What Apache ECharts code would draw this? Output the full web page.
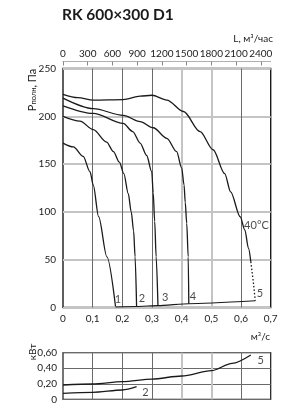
<!DOCTYPE html>
<html>
<head>
<meta charset="utf-8">
<script src="https://cdn.jsdelivr.net/npm/echarts@6/dist/echarts.min.js"></script>
<style>html,body{margin:0;padding:0;background:#fff;}#c{width:286px;height:418px;}</style>
</head>
<body>
<div id="c"></div>
<script>
// ---- data ----
const title = 'RK 600×300 D1';
const flowTickLabels = ['0', '0,1', '0,2', '0,3', '0,4', '0,5', '0,6', '0,7'];
const flowTopTicks = [0, 300, 600, 900, 1200, 1500, 1800, 2100, 2400];
const powerTickLabels = { 0: '0', 0.2: '0,20', 0.4: '0,40', 0.6: '0,60' };

// pressure curves [Q m3/s, P Pa]
const curve1 = [[0,172],[0.035,168],[0.068,158],[0.091,142],[0.102,128],[0.12,95],[0.148,53],[0.177,1]];
const curve2 = [[0,200],[0.057,195],[0.102,186],[0.147,173],[0.17,163],[0.19,152],[0.205,140],[0.22,119],[0.23,100],[0.238,80],[0.243,53],[0.248,1]];
const curve3 = [[0,211],[0.102,203],[0.203,192.5],[0.235,184],[0.26,172],[0.282,159],[0.299,142],[0.304,120],[0.309,90],[0.314,53],[0.32,2]];
const curve4 = [[0,219],[0.102,208],[0.203,201],[0.26,194.5],[0.304,188],[0.35,177],[0.383,163],[0.4,146],[0.408,128],[0.412,110],[0.417,88],[0.422,53],[0.424,4]];
const curve5 = [[0,223],[0.05,219.5],[0.102,217],[0.203,217.5],[0.26,221],[0.3,222],[0.35,217],[0.406,205],[0.462,184],[0.506,165],[0.545,140],[0.565,121],[0.597,95],[0.613,81],[0.625,62],[0.633,48]];
const curve5Dotted = [[0.633,48],[0.641,28],[0.648,7]];
const baseLine = [[0.177,0.5],[0.248,1],[0.32,2],[0.424,4],[0.648,7]];

// power curves [Q m3/s, kW]
const power5 = [[0,0.184],[0.1,0.197],[0.2,0.227],[0.3,0.261],[0.4,0.3],[0.5,0.368],[0.57,0.463],[0.633,0.57]];
const power2 = [[0,0.077],[0.1,0.09],[0.2,0.12],[0.248,0.162]];

// curve labels [Q, value, text]
const pressureLabels = [[0.185,8,'1'],[0.266,9,'2'],[0.344,10,'3'],[0.438,12,'4'],[0.664,15,'5'],[0.652,86,'40°C']];
const powerLabels = [[0.278,0.088,'2'],[0.666,0.506,'5']];

// ---- chart ----
const FONT = 'Lato';
const DARK = '#6a6a6a', GRAY = '#c4c4c4', T = 'rgba(0,0,0,0)';
const darkCols = [T, DARK, DARK, DARK, T, T, DARK, T];
const grayCols = [T, T, T, T, GRAY, GRAY, T, T];
const lab = { fontFamily: FONT, fontSize: 10, color: '#222' };

function lineSeries(data, xi, yi, extra) {
  return Object.assign({
    type: 'line', data: data, xAxisIndex: xi, yAxisIndex: yi,
    showSymbol: false, smooth: 0.3, smoothMonotone: 'x',
    lineStyle: { color: '#1a1a1a', width: 1.3 }, silent: true, z: 5
  }, extra || {});
}
function labelSeries(data, xi, yi) {
  return {
    type: 'scatter', data: data, xAxisIndex: xi, yAxisIndex: yi,
    symbolSize: 0, silent: true, z: 6,
    label: { show: true, position: 'inside', formatter: p => p.data[2],
      fontFamily: FONT, fontSize: 11, color: '#1a1a1a' }
  };
}

const chart = echarts.init(document.getElementById('c'), null, { renderer: 'canvas' });
chart.setOption({
  animation: false,
  backgroundColor: '#fff',
  grid: [
    { left: 63, top: 68.5, width: 207.7, height: 239, show: true, borderColor: '#1a1a1a', borderWidth: 1.4 },
    { left: 63, top: 352.7, width: 207.7, height: 46.6, show: true, borderColor: '#1a1a1a', borderWidth: 1.2 }
  ],
  xAxis: [
    { gridIndex: 0, type: 'value', min: 0, max: 0.7, interval: 0.1, position: 'bottom',
      axisLine: { show: false }, axisTick: { show: false },
      axisLabel: Object.assign({ margin: 6, formatter: (v) => flowTickLabels[Math.round(v * 10)] }, lab),
      splitLine: { show: true, lineStyle: { color: darkCols, width: 1 } } },
    { gridIndex: 0, type: 'value', min: 0, max: 2520, interval: 300, position: 'top', offset: 7,
      axisLine: { show: true, lineStyle: { color: '#b0b0b0', width: 1 } },
      axisTick: { show: true, inside: true, length: 4, lineStyle: { color: '#888' } },
      axisLabel: Object.assign({ margin: 3, showMaxLabel: false,
        formatter: (v) => flowTopTicks.indexOf(v) >= 0 ? String(v) : '' }, lab),
      splitLine: { show: false } },
    { gridIndex: 0, type: 'value', min: 0, max: 0.7, interval: 0.1, show: true,
      axisLine: { show: false }, axisTick: { show: false }, axisLabel: { show: false },
      splitLine: { show: true, lineStyle: { color: grayCols, width: 2 } } },
    { gridIndex: 1, type: 'value', min: 0, max: 0.7, interval: 0.1, position: 'bottom',
      axisLine: { show: false }, axisTick: { show: false }, axisLabel: { show: false },
      splitLine: { show: true, lineStyle: { color: darkCols, width: 1 } } },
    { gridIndex: 1, type: 'value', min: 0, max: 0.7, interval: 0.1,
      axisLine: { show: false }, axisTick: { show: false }, axisLabel: { show: false },
      splitLine: { show: true, lineStyle: { color: grayCols, width: 2 } } }
  ],
  yAxis: [
    { gridIndex: 0, type: 'value', min: 0, max: 250, interval: 50,
      axisLine: { show: false }, axisTick: { show: false },
      axisLabel: Object.assign({ margin: 7 }, lab),
      splitLine: { show: true, lineStyle: { color: GRAY, width: 2 } } },
    { gridIndex: 1, type: 'value', min: 0, max: 0.6, interval: 0.2,
      axisLine: { show: false }, axisTick: { show: false },
      axisLabel: Object.assign({ margin: 6, formatter: (v) => powerTickLabels[Math.round(v * 10) / 10] }, lab),
      splitLine: { show: true, lineStyle: { color: DARK, width: 1 } } }
  ],
  series: [
    lineSeries(curve1, 0, 0),
    lineSeries(curve2, 0, 0),
    lineSeries(curve3, 0, 0),
    lineSeries(curve4, 0, 0),
    lineSeries(curve5, 0, 0),
    lineSeries(curve5Dotted, 0, 0, { smooth: false, lineStyle: { color: '#1a1a1a', width: 1.3, type: [1.5, 2] } }),
    lineSeries(baseLine, 0, 0, { smooth: 0.2, lineStyle: { color: '#1a1a1a', width: 1.1 } }),
    lineSeries(power5, 3, 1),
    lineSeries(power2, 3, 1),
    labelSeries(pressureLabels, 0, 0),
    labelSeries(powerLabels, 3, 1)
  ],
  graphic: [
    { type: 'text', left: 62, top: 7, style: { text: title, fontFamily: FONT, fontWeight: 'bold', fontSize: 15.5, fill: '#1a1a1a' } },
    { type: 'text', right: 13, top: 34, style: { text: 'L, м³/час', fontFamily: FONT, fontSize: 10, fill: '#1a1a1a' } },
    { type: 'text', x: 32, y: 90, rotation: Math.PI / 2,
      style: { text: '{p|P}{s|полн}{n|, Па}', align: 'center', verticalAlign: 'middle',
        rich: { p: { fontFamily: FONT, fontSize: 11, fill: '#1a1a1a' },
                s: { fontFamily: FONT, fontSize: 7.5, fill: '#1a1a1a', padding: [4, 0, 0, 0] },
                n: { fontFamily: FONT, fontSize: 11, fill: '#1a1a1a' } } } },
    { type: 'text', right: 16, top: 332, style: { text: 'м³/с', fontFamily: FONT, fontSize: 10, fill: '#1a1a1a' } },
    { type: 'text', x: 33, y: 352, rotation: Math.PI / 2,
      style: { text: 'кВт', align: 'center', verticalAlign: 'middle', fontFamily: FONT, fontSize: 10, fill: '#1a1a1a' } }
  ]
});
</script>
</body>
</html>
